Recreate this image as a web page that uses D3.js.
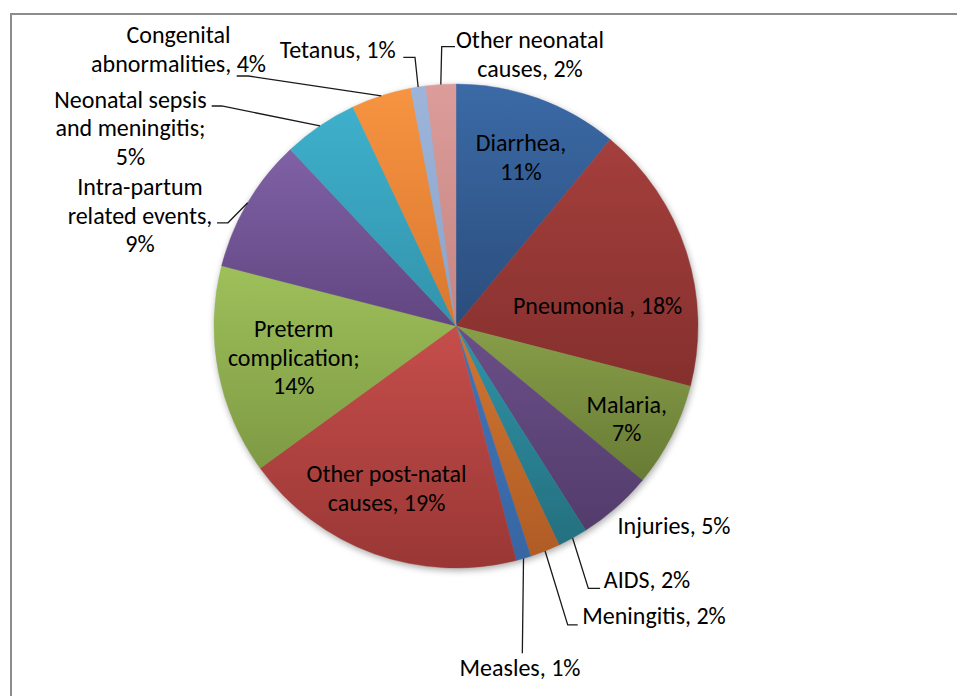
<!DOCTYPE html>
<html>
<head>
<meta charset="utf-8">
<script src="https://cdn.jsdelivr.net/npm/d3@7"></script>
<style>
	body { margin: 0; background: #fff; }
	text { font-family: Carlito, Calibri, Lato, sans-serif; font-size: 24px; fill: #000; }
</style>
</head>
<body>
<svg id="chart" width="957" height="696"></svg>
<script>
// causes of death, clockwise from 12 o'clock
const names = ["Diarrhea", "Pneumonia ", "Malaria", "Injuries", "AIDS", "Meningitis", "Measles",
	"Other post-natal causes", "Preterm complication", "Intra-partum related events",
	"Neonatal sepsis and meningitis", "Congenital abnormalities", "Tetanus", "Other neonatal causes"];
const values = [11, 18, 7, 5, 2, 2, 1, 19, 14, 9, 5, 4, 1, 2];
const separators = [",", ",", ",", ",", ",", ",", ",", ",", ";", ",", ";", ",", ",", ","];

// gradient top / bottom colour per slice
const topColors = ["#3b6aa6", "#a43f3c", "#879e49", "#6a4f88", "#2f93a8", "#d17632", "#4074b8",
	"#c64e4b", "#9ec05a", "#7f61a5", "#3eb0cc", "#f79441", "#9db5da", "#dc9c9a"];
const bottomColors = ["#2b4d7c", "#85302e", "#687b34", "#533c6c", "#24707f", "#b05c25", "#3866a3",
	"#993735", "#7e9a44", "#614681", "#3393ab", "#d9772f", "#8ba3c8", "#c48583"];

// label layout: words per line, nudge from centroid, optional leader points (relative to label centre)
const layout = {
	"Diarrhea": { breaks: [1, 1], dx: 3.5, dy: 1.5 },
	"Pneumonia ": { breaks: [3], dx: -31, dy: 35 },
	"Malaria": { breaks: [1, 1], dx: 9, dy: 10 },
	"Injuries": { breaks: [2], dx: 98, dy: 63 },
	"AIDS": { breaks: [2], dx: 103.6, dy: 94.3, leader: [[-58.7, 9], [-47, 9]] },
	"Meningitis": { breaks: [2], dx: 131.2, dy: 120.9, leader: [[-86.3, 9.3], [-76.3, 9.3]] },
	"Measles": { breaks: [2], dx: 13.4, dy: 167, leader: [[2.3, -14]] },
	"Other post-natal causes": { breaks: [2, 2], dx: -8, dy: -9 },
	"Preterm complication": { breaks: [1, 1, 1], dx: 16, dy: -3 },
	"Intra-partum related events": { breaks: [1, 2, 1], dx: -159.8, dy: -18.3, leader: [[88, 7.5], [77, 7.5]] },
	"Neonatal sepsis and meningitis": { breaks: [2, 2, 1], dx: -223.5, dy: -48.4, leader: [[91.2, -21.5], [81.2, -21.5]] },
	"Congenital abnormalities": { breaks: [1, 2], dx: -221.4, dy: -104.4, leader: [[69.8, 27], [58.2, 27]] },
	"Tetanus": { breaks: [2], dx: -89.9, dy: -97.7, leader: [[77.3, 8.3], [65.6, 8.3]] },
	"Other neonatal causes": { breaks: [2, 2], dx: 85.4, dy: -90.9, leader: [[-88.3, -7.3], [-75, -7.3]] }
};

const svg = d3.select("#chart");
const cx = 456, cy = 326, radius = 242, lineHeight = 28.5;

const data = names.map((n, i) => ({ name: n, value: values[i], sep: separators[i], i: i }));

const defs = svg.append("defs");
const blur = defs.append("filter").attr("id", "shadow")
	.attr("x", "-10%").attr("y", "-10%").attr("width", "120%").attr("height", "120%");
blur.append("feGaussianBlur").attr("stdDeviation", 3.5);

data.forEach((d) => {
	const grad = defs.append("linearGradient")
		.attr("id", "grad" + d.i)
		.attr("x1", 0).attr("y1", 0).attr("x2", 0).attr("y2", 1);
	grad.append("stop").attr("offset", "0%").attr("stop-color", topColors[d.i]);
	grad.append("stop").attr("offset", "100%").attr("stop-color", bottomColors[d.i]);
});

// chart area border (runs off the right and bottom)
svg.append("rect")
	.attr("x", 11).attr("y", 14)
	.attr("width", 980).attr("height", 720)
	.attr("fill", "none")
	.attr("stroke", "#8c8c8c")
	.attr("stroke-width", 2);

const g = svg.append("g")
	.attr("transform", "translate(" + cx + "," + cy + ")");

g.append("circle")
	.attr("cx", 1).attr("cy", 2.5)
	.attr("r", radius)
	.attr("fill", "#000")
	.attr("opacity", 0.35)
	.attr("filter", "url(#shadow)");

const pie = d3.pie()
	.value((d) => d.value)
	.sort(null);

const path = d3.arc()
	.outerRadius(radius)
	.innerRadius(0);

const labelArc = d3.arc()
	.outerRadius(radius * 0.75)
	.innerRadius(radius * 0.75);

const edgeArc = d3.arc()
	.outerRadius(radius)
	.innerRadius(radius);

const arcs = pie(data);

g.selectAll(".slice")
	.data(arcs)
	.enter().append("path")
	.attr("class", "slice")
	.attr("d", path)
	.attr("fill", (d) => "url(#grad" + d.data.i + ")")
	.attr("stroke", (d) => "url(#grad" + d.data.i + ")")
	.attr("stroke-width", 0.4);

// leader lines
arcs.forEach((d) => {
	const lay = layout[d.data.name];
	if (!lay.leader) return;
	const c = labelArc.centroid(d);
	const lx = c[0] + lay.dx, ly = c[1] + lay.dy;
	const pts = [edgeArc.centroid(d)].concat(lay.leader.map((p) => [lx + p[0], ly + p[1]]));
	g.append("path")
		.attr("d", d3.line()(pts))
		.attr("fill", "none")
		.attr("stroke", "#1a1a1a")
		.attr("stroke-width", 1.3);
});

// labels
arcs.forEach((d) => {
	const lay = layout[d.data.name];
	const words = (d.data.name + d.data.sep + " " + d.data.value + "%").split(" ");
	const lines = [];
	let k = 0;
	lay.breaks.forEach((n) => {
		lines.push(words.slice(k, k + n).join(" "));
		k += n;
	});
	const c = labelArc.centroid(d);
	const lx = c[0] + lay.dx, ly = c[1] + lay.dy;
	const text = g.append("text")
		.attr("text-anchor", "middle")
		.attr("x", lx)
		.attr("y", ly);
	lines.forEach((line, j) => {
		text.append("tspan")
			.attr("x", lx)
			.attr("y", ly + (j - (lines.length - 1) / 2) * lineHeight)
			.attr("dy", "0.36em")
			.text(line);
	});
});
</script>
</body>
</html>
